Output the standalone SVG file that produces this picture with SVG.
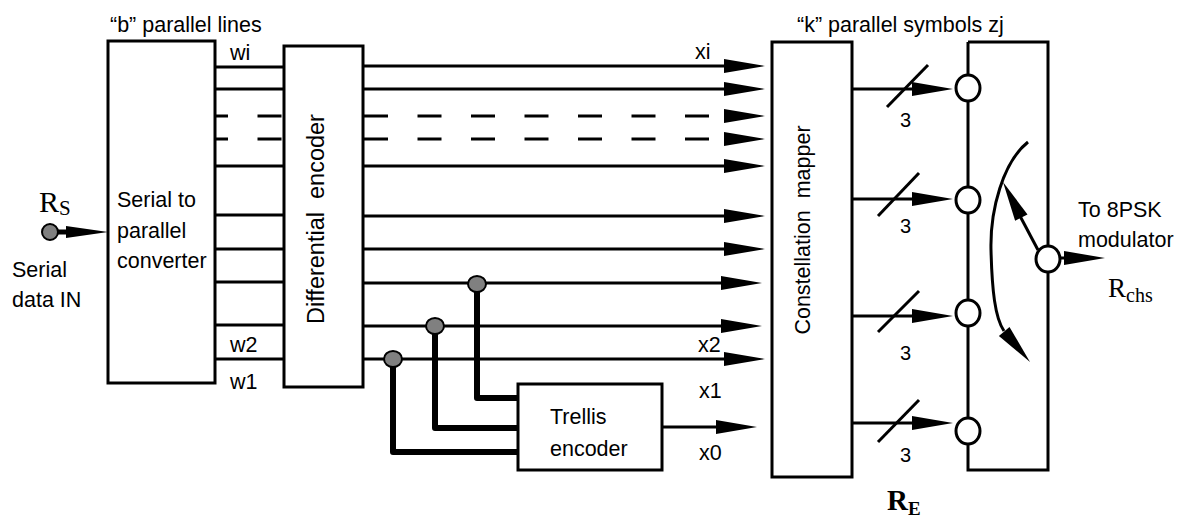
<svg xmlns="http://www.w3.org/2000/svg" xmlns:xlink="http://www.w3.org/1999/xlink" width="1179" height="519" viewBox="0 0 1179 519">
<style>
.box{fill:#fff;stroke:#000;stroke-width:3}
.ln{fill:none;stroke:#000;stroke-width:3}
.dash{fill:none;stroke:#000;stroke-width:3;stroke-dasharray:24 29.5}
.thick{fill:none;stroke:#000;stroke-width:6;stroke-linejoin:round}
.gdot{fill:#808080;stroke:#000;stroke-width:2}
.wdot{fill:#fff;stroke:#000;stroke-width:3}
.t{font-family:"Liberation Sans",Arial,sans-serif;font-size:21.5px;fill:#000}
.r{font-family:"Liberation Serif","Times New Roman",serif;fill:#000}
</style>
<defs>
<polygon id="ah" points="-41,-7 0,0 -41,7" fill="#000"/>
</defs>
<rect width="1179" height="519" fill="#fff"/>

<g id="connectors">
  <line class="ln" x1="50" y1="232" x2="70" y2="232" style="stroke-width:5"/>
  <polygon points="66,226 108,232 66,238" fill="#000"/>
  <g>
    <line class="ln" x1="215" y1="67" x2="284" y2="67"/>
    <line class="ln" x1="215" y1="89" x2="284" y2="89"/>
    <line class="dash" x1="215" y1="116" x2="284" y2="116" stroke-dashoffset="11"/>
    <line class="dash" x1="215" y1="139" x2="284" y2="139" stroke-dashoffset="11"/>
    <line class="ln" x1="215" y1="166" x2="284" y2="166"/>
    <line class="ln" x1="215" y1="215" x2="284" y2="215"/>
    <line class="ln" x1="215" y1="249" x2="284" y2="249"/>
    <line class="ln" x1="215" y1="282" x2="284" y2="282"/>
    <line class="ln" x1="215" y1="325" x2="284" y2="325"/>
    <line class="ln" x1="215" y1="359" x2="284" y2="359"/>
  </g>
  <g>
    <line class="ln" x1="363" y1="66" x2="726" y2="66"/><use xlink:href="#ah" x="765" y="66"/>
    <line class="ln" x1="363" y1="89" x2="726" y2="89"/><use xlink:href="#ah" x="765" y="89"/>
    <line class="dash" x1="364" y1="116" x2="712" y2="116"/><use xlink:href="#ah" x="765" y="116"/>
    <line class="dash" x1="364" y1="139" x2="712" y2="139"/><use xlink:href="#ah" x="765" y="139"/>
    <line class="ln" x1="363" y1="166" x2="726" y2="166"/><use xlink:href="#ah" x="765" y="166"/>
    <line class="ln" x1="363" y1="216" x2="726" y2="216"/><use xlink:href="#ah" x="765" y="216"/>
    <line class="ln" x1="363" y1="249" x2="726" y2="249"/><use xlink:href="#ah" x="765" y="249"/>
    <line class="ln" x1="363" y1="283" x2="723" y2="283"/><use xlink:href="#ah" x="762" y="283"/>
    <line class="ln" x1="363" y1="326" x2="723" y2="326"/><use xlink:href="#ah" x="762" y="326"/>
    <line class="ln" x1="363" y1="359" x2="726" y2="359"/><use xlink:href="#ah" x="765" y="359"/>
  </g>
  <polyline class="thick" points="477,284 477,398 518,398"/>
  <polyline class="thick" points="435,326 435,428 518,428"/>
  <polyline class="thick" points="393,359 393,452 518,452"/>
  <ellipse class="gdot" cx="477" cy="284" rx="9" ry="8"/>
  <ellipse class="gdot" cx="435" cy="326" rx="9" ry="8"/>
  <ellipse class="gdot" cx="393" cy="359" rx="9" ry="8"/>
  <line class="ln" x1="662" y1="427" x2="718" y2="427"/><use xlink:href="#ah" x="757" y="427"/>
  <g>
    <line class="ln" x1="852" y1="89" x2="914" y2="89"/><use xlink:href="#ah" x="953" y="89"/>
    <line class="ln" x1="887" y1="107" x2="928" y2="65"/>
    <line class="ln" x1="852" y1="199" x2="914" y2="199"/><use xlink:href="#ah" x="953" y="199"/>
    <line class="ln" x1="878" y1="216" x2="919" y2="173"/>
    <line class="ln" x1="852" y1="316" x2="914" y2="316"/><use xlink:href="#ah" x="953" y="316"/>
    <line class="ln" x1="878" y1="332" x2="919" y2="291"/>
    <line class="ln" x1="852" y1="423" x2="914" y2="423"/><use xlink:href="#ah" x="953" y="423"/>
    <line class="ln" x1="878" y1="442" x2="919" y2="400"/>
  </g>
  <line class="ln" x1="1060" y1="258" x2="1066" y2="258"/><use xlink:href="#ah" x="1105" y="258"/>
</g>

<g id="input-dot">
  <circle class="gdot" cx="50" cy="232" r="8"/>
</g>

<g id="serial-to-parallel">
  <rect class="box" x="108" y="41" width="107" height="342"/>
  <text class="t" x="117" y="207">Serial to</text>
  <text class="t" x="117" y="238">parallel</text>
  <text class="t" x="117" y="268">converter</text>
</g>

<g id="differential-encoder">
  <rect class="box" x="284" y="46" width="79" height="341"/>
  <text class="t" transform="translate(324,219) rotate(-90)" text-anchor="middle" style="font-size:23.5px">Differential&#160; encoder</text>
</g>

<g id="trellis-encoder">
  <rect class="box" x="518" y="384" width="144" height="86"/>
  <text class="t" x="550" y="424">Trellis</text>
  <text class="t" x="550" y="456">encoder</text>
</g>

<g id="constellation-mapper">
  <rect class="box" x="772" y="42" width="80" height="435"/>
  <text class="t" transform="translate(810,230) rotate(-90)" text-anchor="middle">Constellation&#160; mapper</text>
</g>

<g id="switch">
  <polyline class="ln" points="968,42 968,470 1048,470 1048,42 968,42"/>
  <ellipse class="wdot" cx="968" cy="88" rx="12" ry="13"/>
  <ellipse class="wdot" cx="968" cy="200" rx="12" ry="13"/>
  <ellipse class="wdot" cx="968" cy="313" rx="12" ry="13"/>
  <ellipse class="wdot" cx="968" cy="431" rx="12" ry="13"/>
  <ellipse class="wdot" cx="1048" cy="259" rx="12" ry="13"/>
  <line class="ln" x1="1038" y1="250" x2="1020" y2="216"/>
  <polygon points="1003,182 1027.5,214.4 1015.1,220.8" fill="#000"/>
  <path class="ln" d="M1028,142 C1003,162 990,210 991,250 C992,290 995,318 1004,331"/>
  <polygon points="1030,362 1009.5,326.9 998.9,335.9" fill="#000"/>
</g>

<g id="labels">
  <text class="t" x="110" y="32">“b” parallel lines</text>
  <text class="t" x="797" y="32">“k” parallel symbols zj</text>
  <text class="t" x="230" y="60">wi</text>
  <text class="t" x="230" y="352">w2</text>
  <text class="t" x="230" y="389">w1</text>
  <text class="t" x="695" y="59">xi</text>
  <text class="t" x="698" y="352">x2</text>
  <text class="t" x="699" y="398">x1</text>
  <text class="t" x="699" y="460">x0</text>
  <text class="t" x="12" y="277">Serial</text>
  <text class="t" x="12" y="307">data IN</text>
  <text class="t" x="900" y="127" style="font-size:20px">3</text>
  <text class="t" x="900" y="233" style="font-size:20px">3</text>
  <text class="t" x="900" y="360" style="font-size:20px">3</text>
  <text class="t" x="900" y="462" style="font-size:20px">3</text>
  <text class="t" x="1078" y="217">To 8PSK</text>
  <text class="t" x="1078" y="247">modulator</text>
  <text class="r" x="39" y="212" style="font-size:30px">R<tspan style="font-size:21px" dy="3">S</tspan></text>
  <text class="r" x="1108" y="297" style="font-size:27px">R<tspan style="font-size:20px" dy="5">chs</tspan></text>
  <text class="r" x="887" y="510" style="font-size:29px;font-weight:bold">R<tspan style="font-size:19px" dy="5">E</tspan></text>
</g>
</svg>
